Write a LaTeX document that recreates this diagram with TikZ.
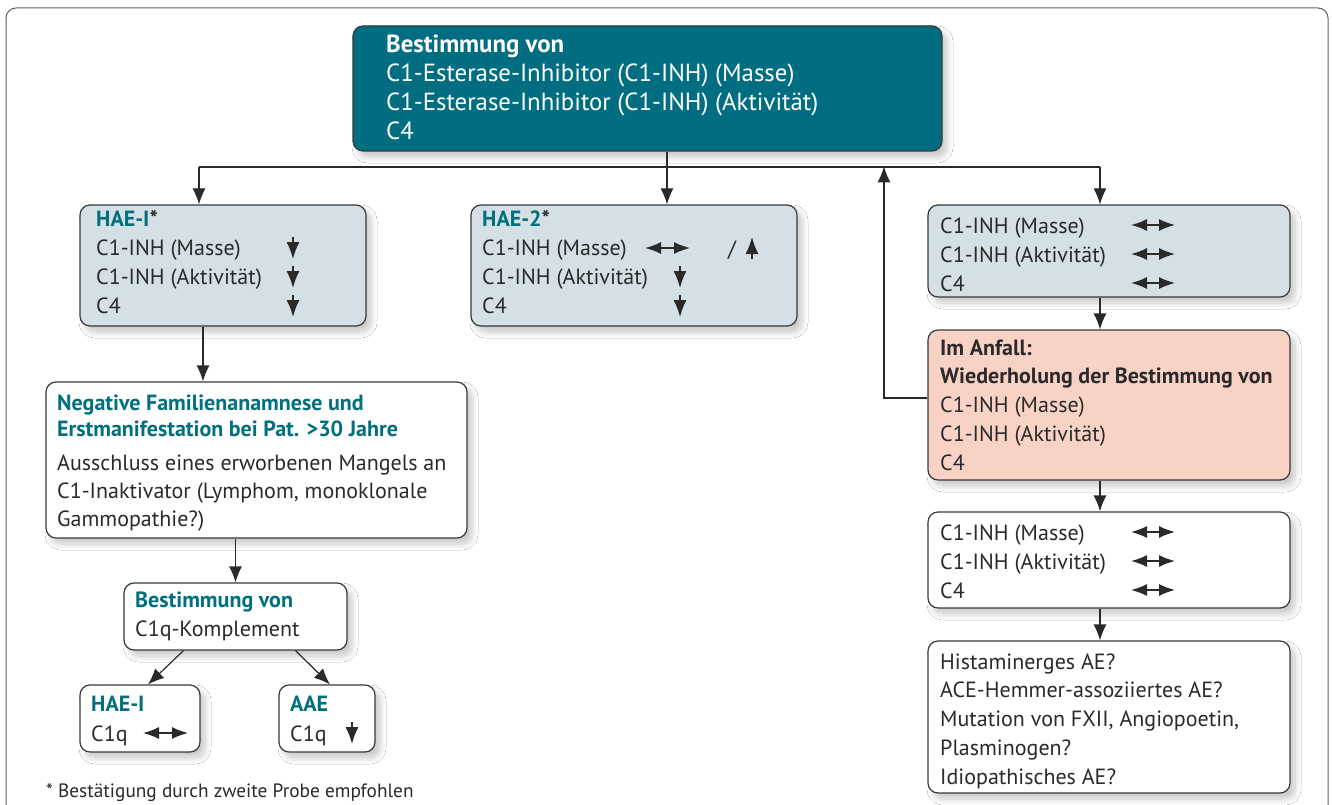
\documentclass[tikz,border=0pt]{standalone}
\usepackage{fontspec}
\setmainfont{PT Sans}
\usetikzlibrary{arrows.meta,fit,shadows.blur}
\definecolor{tealc}{HTML}{006E80}
\definecolor{teall}{HTML}{00707F}
\definecolor{bluegray}{HTML}{D4DFE6}
\definecolor{salmon}{HTML}{F8D3C5}
\definecolor{edge}{HTML}{3A3A3A}
\definecolor{ink}{HTML}{2A2A2A}
\newcommand\hd[1]{\textcolor{teall}{\textbf{#1}}}
\begin{document}
\begin{tikzpicture}[x=1pt,y=-1pt,
  box/.style={draw=edge, line width=1.2pt, rounded corners=10pt, inner sep=0pt,
    blur shadow={shadow xshift=5pt, shadow yshift=-6pt, shadow opacity=22, shadow blur steps=10, shadow blur radius=6pt}},
  txt/.style={anchor=base west, inner sep=0pt, text=ink, font=\fontsize{22}{26}\selectfont},
  wtxt/.style={txt, text=white, font=\fontsize{24.8}{28}\selectfont},
  small/.style={txt, font=\fontsize{19.3}{22}\selectfont},
  conn/.style={draw=ink, line width=1.2pt, -{Latex[length=16pt,width=13pt]}},
  line/.style={draw=ink, line width=1.2pt},
  sym/.style={draw=ink, line width=1.6pt, -{Latex[length=17pt,width=13pt]}},
  dsym/.style={draw=ink, line width=1.6pt, {Latex[length=16pt,width=12pt]}-{Latex[length=16pt,width=12pt]}}]
\useasboundingbox (0,0) rectangle (1332,805);
\fill[white] (0,0) rectangle (1332,805);
\draw[draw=edge!80, line width=1pt, rounded corners=10pt] (6,8) rectangle (1328,860);

% boxes
\node[box, fill=tealc, fit={(353,26) (942,151)}] (top) {};
\node[box, fill=bluegray, fit={(80,205) (366,326)}] (hae1) {};
\node[box, fill=bluegray, fit={(471,205) (797,326)}] (hae2) {};
\node[box, fill=bluegray, fit={(928,205) (1290,297)}] (r1) {};
\node[box, fill=salmon, fit={(928,330) (1290,480)}] (anf) {};
\node[box, fill=white, fit={(928,512) (1290,608)}] (w1) {};
\node[box, fill=white, fit={(928,641) (1290,793)}] (w2) {};
\node[box, fill=white, fit={(46,382) (467,538)}] (neg) {};
\node[box, fill=white, fit={(124,583) (347,650)}] (c1q) {};
\node[box, fill=white, fit={(80,685) (200,752)}] (haes) {};
\node[box, fill=white, fit={(279,685) (375,752)}] (aae) {};

% texts
\foreach \t [count=\i from 0] in {{\textbf{Bestimmung von}},{C1-Esterase-Inhibitor (C1-INH) (Masse)},{C1-Esterase-Inhibitor (C1-INH) (Aktivität)},{C4}}
  \node[wtxt] (top-\i) at (386,53+28.7*\i) {\t};
\foreach \t [count=\i from 0] in {{\hd{HAE-I}\textbf{*}},{C1-INH (Masse)},{C1-INH (Aktivität)},{C4}}
  \node[txt] (hae1-\i) at (96,226+29*\i) {\t};
\foreach \t [count=\i from 0] in {{\hd{HAE-2}\textbf{*}},{C1-INH (Masse)},{C1-INH (Aktivität)},{C4}}
  \node[txt] (hae2-\i) at (482,226+29*\i) {\t};
\foreach \t [count=\i from 0] in {{C1-INH (Masse)},{C1-INH (Aktivität)},{C4}}
  \node[txt] (r1-\i) at (940,233+29*\i) {\t};
\foreach \t [count=\i from 0] in {{\textbf{Im Anfall:}},{\textbf{Wiederholung der Bestimmung von}},{C1-INH (Masse)},{C1-INH (Aktivität)},{C4}}
  \node[txt] (anf-\i) at (940,355+28.8*\i) {\t};
\foreach \t [count=\i from 0] in {{C1-INH (Masse)},{C1-INH (Aktivität)},{C4}}
  \node[txt] (w1-\i) at (940,540+29*\i) {\t};
\foreach \t [count=\i from 0] in {{Histaminerges AE?},{ACE-Hemmer-assoziiertes AE?},{Mutation von FXII, Angiopoetin,},{Plasminogen?},{Idiopathisches AE?}}
  \node[txt] (w2-\i) at (940,669+28.8*\i) {\t};
\node[txt] (neg-0) at (57,410) {\hd{Negative Familienanamnese und}};
\node[txt] (neg-1) at (57,436) {\hd{Erstmanifestation bei Pat. >30 Jahre}};
\foreach \t [count=\i from 0] in {{Ausschluss eines erworbenen Mangels an},{C1-Inaktivator (Lymphom, monoklonale},{Gammopathie?)}}
  \node[txt] (neg-t\i) at (57,470+28*\i) {\t};
\node[txt] (c1q-0) at (135,607) {\hd{Bestimmung von}};
\node[txt] (c1q-1) at (135,636) {C1q-Komplement};
\node[txt] (haes-0) at (91,711) {\hd{HAE-I}};
\node[txt] (haes-1) at (91,741) {C1q};
\node[txt] (aae-0) at (290,711) {\hd{AAE}};
\node[txt] (aae-1) at (290,741) {C1q};
\node[small] (foot) at (46,797) {* Bestätigung durch zweite Probe empfohlen};
\node[txt] (slash) at (728,256) {/};

% symbols
\foreach \y in {248,277,306} \draw[sym] (293,\y-11) -- (293,\y+11);
\draw[dsym] (645,248) -- (690,248);
\draw[sym] (752,259) -- (752,237);
\foreach \y in {277,306} \draw[sym] (680,\y-11) -- (680,\y+11);
\foreach \y in {225,254,283,532,561,590} \draw[dsym] (1131,\y) -- (1175,\y);
\draw[dsym] (143,733) -- (188,733);
\draw[sym] (352,722) -- (352,744);

% connectors
\coordinate (b1) at (199,167);
\coordinate (b2) at (667,167);
\coordinate (b3) at (884,167);
\coordinate (b4) at (1100,167);
\coordinate (fb) at (884,398);
\coordinate (v1) at (203,0);
\draw[line] (top.south -| b2) -- (b2);
\draw[line] (b1) -- (b4);
\draw[conn] (b1) -- (b1 |- hae1.north);
\draw[conn] (b2) -- (b2 |- hae2.north);
\draw[conn] (b4) -- (b4 |- r1.north);
\draw[conn] (anf.west |- fb) -- (fb) -- ([yshift=0.6pt]b3);
\draw[conn] (r1.south -| b4) -- (anf.north -| b4);
\draw[conn] (anf.south -| b4) -- (w1.north -| b4);
\draw[conn] (w1.south -| b4) -- (w2.north -| b4);
\draw[conn] (hae1.south -| v1) -- (neg.north -| v1);
\draw[conn] (neg.south -| c1q.north) -- (c1q.north);
\draw[conn] ([xshift=-52pt]c1q.south) -- ([xshift=8pt]haes.north);
\draw[conn] ([xshift=60pt]c1q.south) -- ([xshift=3pt]aae.north);
\end{tikzpicture}
\end{document}
